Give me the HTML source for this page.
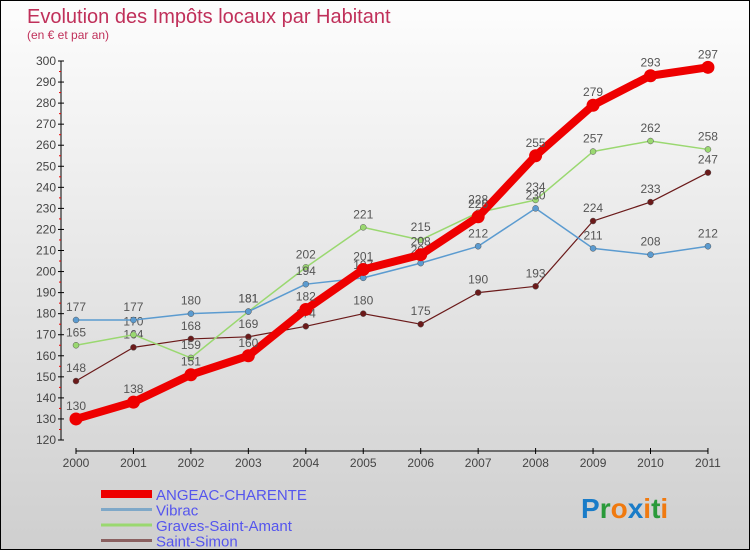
<!DOCTYPE html>
<html><head><meta charset="utf-8"><style>
html,body{margin:0;padding:0}
body{width:750px;height:550px;overflow:hidden;font-family:"Liberation Sans",sans-serif}
#wrap{position:relative;width:748px;height:548px;border:1px solid #000;background:linear-gradient(#fdfdfd,#cfcfcf)}
</style></head><body>
<div id="wrap">
<svg id="chart" width="748" height="548">
<text x="26" y="22" font-size="20" fill="#c0305a">Evolution des Impôts locaux par Habitant</text>
<text x="26" y="38" font-size="12" fill="#c0305a">(en € et par an)</text>
<g id="axes"></g><g id="series"></g><g id="legend"></g>
<text x="580" y="517" font-size="28" font-weight="bold"><tspan fill="#1a7cc8">P</tspan><tspan fill="#2a9a3a">r</tspan><tspan fill="#f07a10">o</tspan><tspan fill="#1a7cc8">x</tspan><tspan fill="#f07a10">i</tspan><tspan fill="#2a9a3a">t</tspan><tspan fill="#f07a10">i</tspan></text>
</svg>
</div>
<script>
const years=[2000,2001,2002,2003,2004,2005,2006,2007,2008,2009,2010,2011];
const angeac=[130,138,151,160,182,201,208,226,255,279,293,297];
const vibrac=[177,177,180,181,194,197,204,212,230,211,208,212];
const graves=[165,170,159,181,202,221,215,228,234,257,262,258];
const simon=[148,164,168,169,174,180,175,190,193,224,233,247];
const yTicks=[120,130,140,150,160,170,180,190,200,210,220,230,240,250,260,270,280,290,300];
const NS="http://www.w3.org/2000/svg";
const xs=i=>75+i*57.45;
const ys=v=>439-(v-120)*(379/180);
function mk(tag,attrs,parent,txt){const e=document.createElementNS(NS,tag);for(const k in attrs)e.setAttribute(k,attrs[k]);if(txt!==undefined)e.textContent=txt;parent.appendChild(e);return e;}
const axes=document.getElementById('axes');
let yl=mk('line',{x1:60,x2:60,y1:ys(300),y2:ys(120),stroke:'#000'},axes);


yTicks.forEach(t=>{
  mk('line',{x1:57,x2:63,y1:ys(t),y2:ys(t),stroke:'#000'},axes);
  if(t<300) mk('line',{x1:58,x2:60,y1:ys(t+5),y2:ys(t+5),stroke:'#e00'},axes);
  const tx=mk('text',{x:55,y:ys(t)+4,'font-size':12,fill:'#444','text-anchor':'end'},axes,t);
  
  
});
let xl=mk('line',{x1:xs(0),x2:xs(11),y1:450,y2:450,stroke:'#000'},axes);


years.forEach((y,i)=>{
  mk('line',{x1:xs(i),x2:xs(i),y1:447,y2:453,stroke:'#000'},axes);
  const tx=mk('text',{x:xs(i),y:466,'font-size':12,fill:'#444','text-anchor':'middle'},axes,y);
  
  
});
const series=[
 {name:'saint-simon',data:simon,color:'#6b1a1a',w:1.2,r:3},
 {name:'graves-saint-amant',data:graves,color:'#9ad870',w:1.5,r:3},
 {name:'vibrac',data:vibrac,color:'#5b9bd0',w:1.5,r:3},
 {name:'angeac-charente',data:angeac,color:'#ee0000',w:8,r:6.5}
];
const sg=document.getElementById('series');
series.forEach(s=>{
  const g=mk('g',{},sg);
  
  
  const p=mk('polyline',{points:s.data.map((v,i)=>xs(i)+','+ys(v)).join(' '),fill:'none',stroke:s.color,'stroke-width':s.w,'stroke-linejoin':'round'},g);
  
  
  s.data.forEach((v,i)=>{
    const c=mk('circle',{cx:xs(i),cy:ys(v),r:s.r,fill:s.color,stroke:s.r<4?'#555':'none','stroke-width':0.5},g);
    
    
    const t=mk('text',{x:xs(i),y:ys(v)-9,'font-size':12,fill:'#555','text-anchor':'middle'},g,v);
    
    
  });
});
const lg=document.getElementById('legend');
const leg=[['ANGEAC-CHARENTE','#ee0000',8],['Vibrac','#7fa8c8',3],['Graves-Saint-Amant','#9ad870',3],['Saint-Simon','#8a6060',3]];
leg.forEach((l,i)=>{
  const y=493+i*15.5;
  const g=mk('g',{},lg);
  
  
  mk('line',{x1:100,x2:151,y1:y,y2:y,stroke:l[1],'stroke-width':l[2]},g);
  mk('text',{x:155,y:y+6,'font-size':15,fill:'#5555ee'},g,l[0]);
});
</script>
</body></html>
